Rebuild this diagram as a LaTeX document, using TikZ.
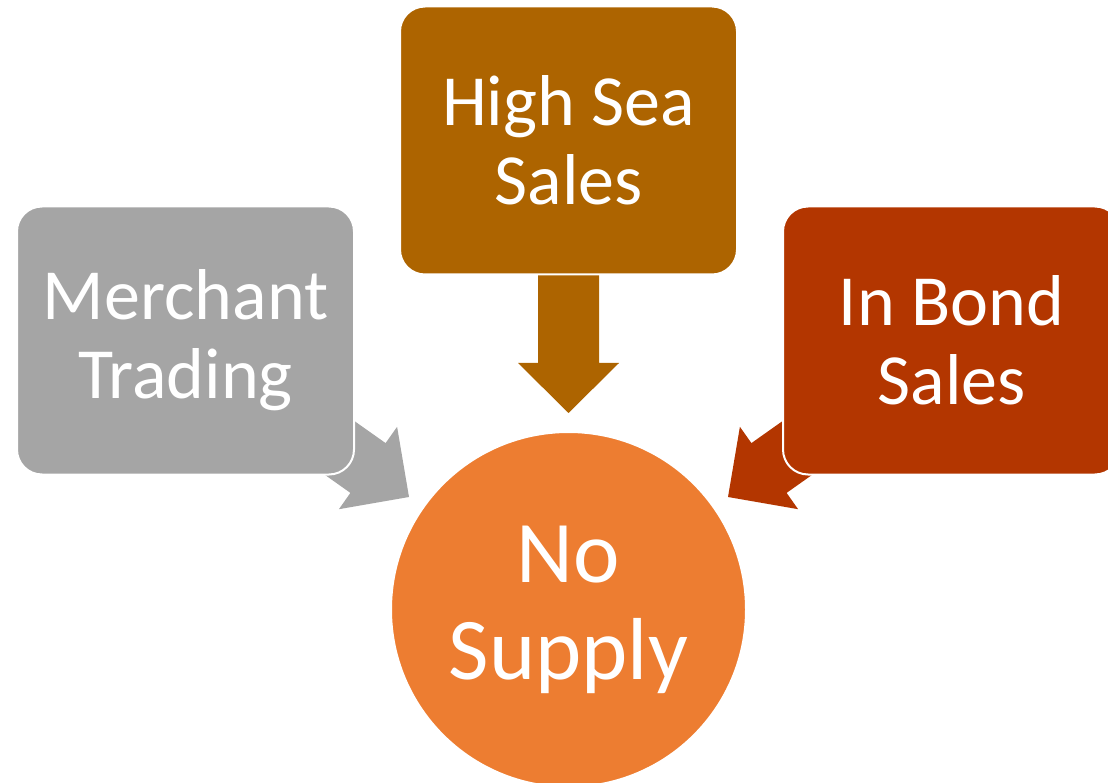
\documentclass[tikz,border=0pt]{standalone}
\usepackage{fontspec}
\setmainfont{Carlito}
\definecolor{cgrey}{HTML}{A5A5A5}
\definecolor{cbrown}{HTML}{AD6400}
\definecolor{cred}{HTML}{B33600}
\definecolor{corange}{HTML}{ED7D31}
\tikzset{
  boxnode/.style={rectangle, rounded corners=25pt, draw=white, line width=2pt,
    minimum width=337pt, minimum height=268pt, inner sep=0pt, align=center,
    text=white, font=\fontsize{72}{79}\selectfont},
  circnode/.style={circle, draw=white, line width=2pt, minimum size=355pt,
    inner sep=0pt, align=center, text=white, font=\fontsize{88}{97}\selectfont}
}
\begin{document}
\begin{tikzpicture}[x=1pt,y=-1pt]
\useasboundingbox (0,0) rectangle (1108,783);
\clip (0,0) rectangle (1108,783);
% block arrows (behind the boxes)
\fill[cbrown] (538,250) -- (599,250) -- (599,363) -- (619,363) -- (568.5,413) -- (518,363) -- (538,363) -- cycle;
\fill[cgrey] (409,497) -- (397.1,426.8) -- (385.6,443.1) -- (304.0,385.4) -- (268.8,435.2) -- (350.4,492.9) -- (338.9,509.2) -- cycle;
\fill[cred] (728,497) -- (739.9,426.8) -- (751.4,443.1) -- (833.0,385.4) -- (868.2,435.2) -- (786.6,492.9) -- (798.1,509.2) -- cycle;
% boxes
\node[boxnode, fill=cbrown] (hss) at (568.5,140.5) {High Sea\\Sales};
\node[boxnode, fill=cgrey] (mt) at (185.5,340.5) {Merchant\\Trading};
\node[boxnode, fill=cred] (ibs) at (951.5,340.5) {In Bond\\Sales};
\node[circnode, fill=corange] (ns) at (568.5,609.5) {No\\Supply};
\end{tikzpicture}
\end{document}
